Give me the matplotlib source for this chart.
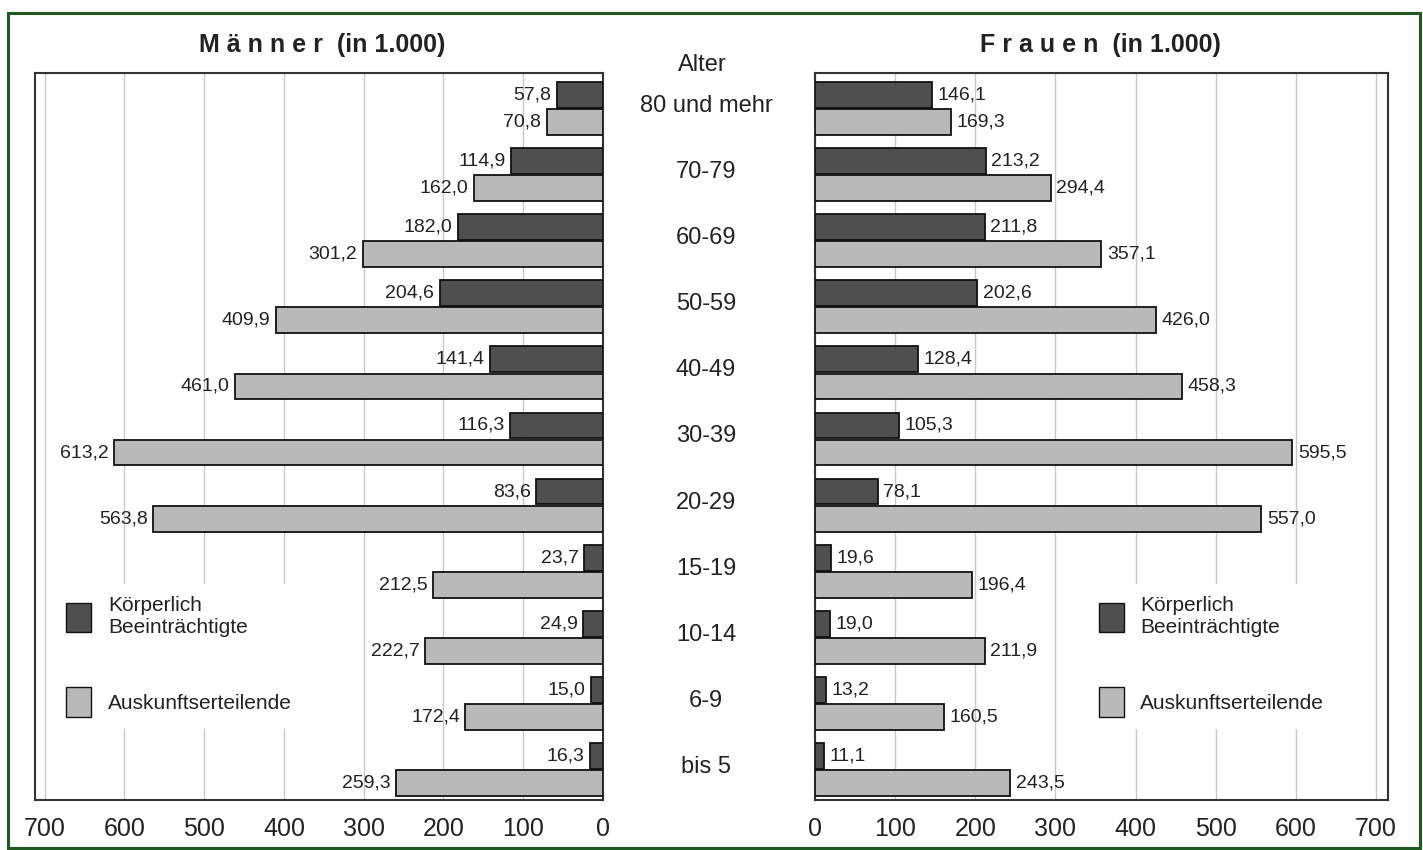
import matplotlib.pyplot as plt
import matplotlib.transforms as mtransforms
from matplotlib.patches import Patch, Rectangle

plt.rcParams['font.family'] = ['Liberation Sans', 'DejaVu Sans']

alter = ['80 und mehr', '70-79', '60-69', '50-59', '40-49', '30-39',
         '20-29', '15-19', '10-14', '6-9', 'bis 5']
maenner_koerperlich = [57.8, 114.9, 182.0, 204.6, 141.4, 116.3, 83.6, 23.7, 24.9, 15.0, 16.3]
maenner_auskunft = [70.8, 162.0, 301.2, 409.9, 461.0, 613.2, 563.8, 212.5, 222.7, 172.4, 259.3]
frauen_koerperlich = [146.1, 213.2, 211.8, 202.6, 128.4, 105.3, 78.1, 19.6, 19.0, 13.2, 11.1]
frauen_auskunft = [169.3, 294.4, 357.1, 426.0, 458.3, 595.5, 557.0, 196.4, 211.9, 160.5, 243.5]
ticks = [0, 100, 200, 300, 400, 500, 600, 700]
legende = ['Körperlich\nBeeinträchtigte', 'Auskunftserteilende']

dunkel = '#4f4f4f'
hell = '#b9b9b9'

W, H = 1423, 850
fig = plt.figure(figsize=(W / 100, H / 100), dpi=100)
fig.patch.set_facecolor('white')

# gruener Rahmen
fig.add_artist(Rectangle((8 / W, 2 / H), 1412 / W, 835 / H, transform=fig.transFigure,
                         fill=False, edgecolor='#1f5a1f', linewidth=2.2))

axL = fig.add_axes([35 / W, 1 - 800 / H, 568 / W, 727 / H])
axR = fig.add_axes([815 / W, 1 - 800 / H, 573 / W, 727 / H])

def fmt(v):
    return f'{v:.1f}'.replace('.', ',')

y = list(range(len(alter)))
h = 0.39
off = 0.205

for ax, k, a, links in [(axL, maenner_koerperlich, maenner_auskunft, True),
                        (axR, frauen_koerperlich, frauen_auskunft, False)]:
    yk = [i - off for i in y]
    ya = [i + off for i in y]
    ax.barh(yk, k, height=h, color=dunkel, edgecolor='#111111', linewidth=1.3, zorder=3)
    ax.barh(ya, a, height=h, color=hell, edgecolor='#111111', linewidth=1.3, zorder=3)
    dx = -4 if links else 4
    ha = 'right' if links else 'left'
    for yy, v in list(zip(yk, k)) + list(zip(ya, a)):
        ax.annotate(fmt(v), (v, yy), xytext=(dx, 0), textcoords='offset points',
                    ha=ha, va='center', fontsize=14, color='#222222', zorder=4)
    ax.set_ylim(10.46, -0.537)
    ax.set_yticks([])
    ax.set_xticks(ticks)
    ax.tick_params(axis='x', length=0, labelsize=18, pad=12, colors='#222222')
    ax.grid(axis='x', color='#c8c8c8', linewidth=1, zorder=0)
    for s in ax.spines.values():
        s.set_color('#333333')
        s.set_linewidth(1.5)
    handles = [Patch(facecolor=dunkel, edgecolor='#111111'),
               Patch(facecolor=hell, edgecolor='#111111')]
    lx = 0.015 if links else 0.455
    leg = ax.legend(handles, legende, loc='upper left', bbox_to_anchor=(lx, 0.312),
                    fontsize=15, frameon=True, facecolor='white', edgecolor='none',
                    framealpha=1, handlelength=1.2, handleheight=1.8,
                    labelspacing=2.4, borderpad=0.6, handletextpad=0.8)
    leg.set_zorder(5)
    for t in leg.get_texts():
        t.set_color('#222222')

axL.set_xlim(712, 0)
axR.set_xlim(0, 715)

# Altersgruppen in der Mitte
tr = mtransforms.blended_transform_factory(fig.transFigure, axL.transData)
for i, lab in enumerate(alter):
    fig.text(706 / W, i - 0.04, lab, transform=tr, ha='center', va='center',
             fontsize=17, color='#222222')
fig.text(702 / W, 1 - 65 / H, 'Alter', ha='center', va='center', fontsize=17, color='#222222')

fig.text(322 / W, 1 - 45 / H, 'M ä n n e r  (in 1.000)', ha='center', va='center',
         fontsize=18, fontweight='bold', color='#222222')
fig.text(1100 / W, 1 - 45 / H, 'F r a u e n  (in 1.000)', ha='center', va='center',
         fontsize=18, fontweight='bold', color='#222222')

fig.savefig('out.png', dpi=100)
